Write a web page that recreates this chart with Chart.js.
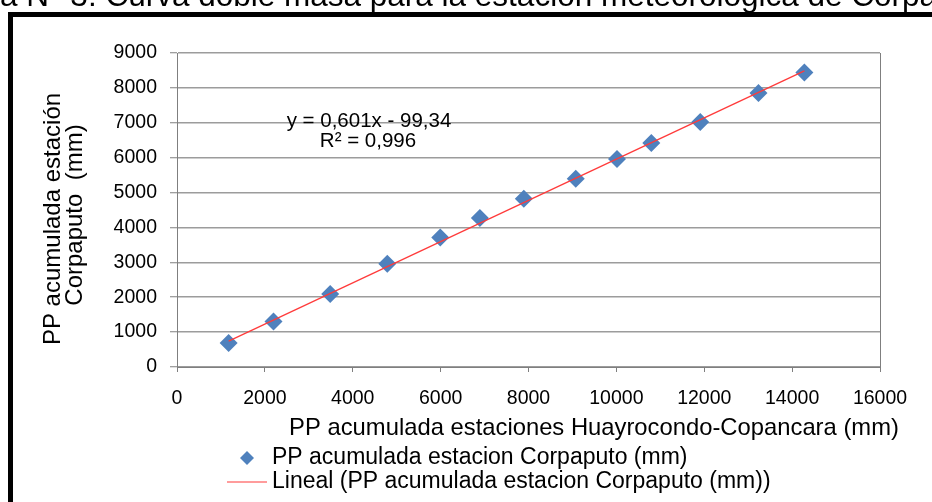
<!DOCTYPE html>
<html>
<head>
<meta charset="utf-8">
<script src="https://cdn.jsdelivr.net/npm/chart.js@4.4.0/dist/chart.umd.min.js"></script>
<style>
html,body{margin:0;padding:0;background:#fff;}
#wrap{position:relative;width:932px;height:502px;overflow:hidden;}
canvas{display:block;}
</style>
</head>
<body>
<div id="wrap"><canvas id="c" width="932" height="502"></canvas></div>
<script>
// ---- data ----
const xValues = [1175, 2196, 3486, 4786, 5991, 6893, 7893, 9075, 10014, 10795, 11909, 13234, 14279];
const yValues = [688, 1307, 2092, 2960, 3713, 4269, 4822, 5395, 5960, 6418, 7020, 7851, 8441];
const trendX = [1175, 14279];
const trendY = [740, 8490];
const xTicks = [0, 2000, 4000, 6000, 8000, 10000, 12000, 14000, 16000];
const yTicks = [0, 1000, 2000, 3000, 4000, 5000, 6000, 7000, 8000, 9000];
const seriesName = 'PP acumulada estacion Corpaputo (mm)';
const trendName = 'Lineal (PP acumulada estacion Corpaputo (mm))';
const xTitle = 'PP acumulada estaciones Huayrocondo-Copancara (mm)';
const yTitle = ['PP acumulada estación', 'Corpaputo  (mm)'];
const equation = ['y = 0,601x - 99,34', 'R² = 0,996'];
const pageTitle = 'Figura N° 3: Curva doble masa para la estación meteorológica de Corpaputo';

const FONT = '"Liberation Sans", Arial, sans-serif';
const BLUE = '#4F81BD';
const RED = '#FF3B3B';

const textPlugin = {
  id: 'texts',
  beforeDraw(chart) {
    const ctx = chart.ctx;
    ctx.save();
    ctx.fillStyle = '#fff';
    ctx.fillRect(0, 0, chart.width, chart.height);
    ctx.fillStyle = '#000';
    ctx.fillRect(8, 12, 930, 5);
    ctx.fillRect(8, 12, 5, 500);
    ctx.font = '31.5px ' + FONT;
    ctx.textAlign = 'left';
    ctx.textBaseline = 'alphabetic';
    ctx.fillText(pageTitle, -ctx.measureText('Figur').width, 6);
    ctx.restore();
  },
  afterDraw(chart) {
    const ctx = chart.ctx;
    ctx.save();
    ctx.fillStyle = '#000';
    // equation
    ctx.font = '20.5px ' + FONT;
    ctx.textAlign = 'center';
    ctx.textBaseline = 'middle';
    ctx.fillText(equation[0], 369, 121);
    ctx.fillText(equation[1], 368, 141);
    // x title
    ctx.font = '23.8px ' + FONT;
    ctx.fillText(xTitle, 594, 428);
    // y title
    ctx.font = '24px ' + FONT;
    ctx.save();
    ctx.translate(53, 219);
    ctx.rotate(-Math.PI / 2);
    ctx.fillText(yTitle[0], 0, 0);
    ctx.restore();
    ctx.save();
    ctx.translate(75, 215);
    ctx.rotate(-Math.PI / 2);
    ctx.fillText(yTitle[1], 0, 0);
    ctx.restore();
    // legend
    ctx.fillStyle = BLUE;
    ctx.beginPath();
    ctx.moveTo(247, 451); ctx.lineTo(254, 458); ctx.lineTo(247, 465); ctx.lineTo(240, 458);
    ctx.closePath(); ctx.fill();
    ctx.strokeStyle = RED; ctx.lineWidth = 1.2;
    ctx.beginPath(); ctx.moveTo(227, 482); ctx.lineTo(267, 482); ctx.stroke();
    ctx.fillStyle = '#000';
    ctx.font = '23px ' + FONT;
    ctx.textAlign = 'left';
    ctx.fillText(seriesName, 272, 458);
    ctx.fillText(trendName, 272, 482);
    ctx.restore();
  }
};

const plainTick = v => String(v);

new Chart(document.getElementById('c'), {
  type: 'scatter',
  data: {
    datasets: [
      {
        label: trendName,
        type: 'line',
        data: trendX.map((x, i) => ({ x: x, y: trendY[i] })),
        borderColor: RED,
        borderWidth: 1.3,
        pointRadius: 0,
        fill: false,
        order: 0
      },
      {
        label: seriesName,
        data: xValues.map((x, i) => ({ x: x, y: yValues[i] })),
        pointStyle: 'rectRot',
        pointRadius: 9,
        backgroundColor: BLUE,
        borderColor: BLUE,
        borderWidth: 0,
        order: 1
      }
    ]
  },
  options: {
    responsive: false,
    animation: false,
    devicePixelRatio: 1,
    layout: { padding: { top: 53, right: 52, bottom: 0, left: 0 } },
    plugins: { legend: { display: false }, tooltip: { enabled: false }, title: { display: false } },
    scales: {
      x: {
        type: 'linear', min: 0, max: 16000,
        afterBuildTicks: s => { s.ticks = xTicks.map(v => ({ value: v })); },
        ticks: { font: { family: FONT, size: 19.5 }, color: '#000', padding: 15, maxRotation: 0, autoSkip: false, callback: plainTick },
        grid: { drawOnChartArea: false, drawTicks: true, tickLength: 5, color: '#7f7f7f' },
        border: { color: '#7f7f7f', width: 1 },
        afterFit: s => { s.height = 135; }
      },
      y: {
        type: 'linear', min: 0, max: 9000,
        afterBuildTicks: s => { s.ticks = yTicks.map(v => ({ value: v })); },
        ticks: { font: { family: FONT, size: 19.5 }, color: '#000', padding: 13, callback: plainTick },
        grid: { color: '#9c9c9c', lineWidth: 1.5, tickColor: '#7f7f7f', tickLength: 7, tickWidth: 1 },
        border: { color: '#7f7f7f', width: 1 },
        afterFit: s => { s.width = 177; }
      },
      y2: {
        type: 'linear', position: 'right', min: 0, max: 9000,
        ticks: { display: false },
        grid: { display: false, drawTicks: false },
        border: { display: true, color: '#7f7f7f', width: 1 },
        afterFit: s => { s.width = 0; }
      }
    }
  },
  plugins: [textPlugin]
});
</script>
</body>
</html>
